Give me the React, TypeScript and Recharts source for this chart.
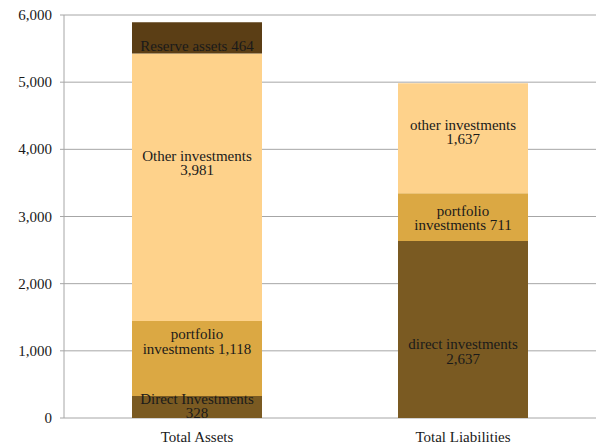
import React from "react";
import { BarChart, Bar, XAxis, YAxis, CartesianGrid, LabelList } from "recharts";

const categories = ["Total Assets", "Total Liabilities"];
const directValues = [328, 2637];
const portfolioValues = [1118, 711];
const otherValues = [3981, 1637];
const reserveValues = [464, 0];
const yTicks = [0, 1000, 2000, 3000, 4000, 5000, 6000];

const directLabels = [["Direct Investments", "328"], ["direct investments", "2,637"]];
const portfolioLabels = [["portfolio", "investments 1,118"], ["portfolio", "investments 711"]];
const otherLabels = [["Other investments", "3,981"], ["other investments", "1,637"]];
const reserveLabels = [["Reserve assets 464"], []];

const data = categories.map((c, i) => ({
  name: c,
  direct: directValues[i],
  portfolio: portfolioValues[i],
  other: otherValues[i],
  reserve: reserveValues[i],
}));

// label vertical nudges (style only)
const labelShift: Record<string, number[]> = {
  direct: [-1, 22],
  portfolio: [-17, 1],
  other: [-24, -6],
  reserve: [8, 0],
};

const FONT = '"Liberation Serif", "Times New Roman", serif';
const GRAY = "#A6A6A6";

const makeLabel = (lines: string[][], key: string) => (props: any) => {
  const { x, y, width, height, index } = props;
  const ls = lines[index] || [];
  if (!ls.length) return null;
  const cx = Number(x) + Number(width) / 2;
  const cy = Number(y) + Number(height) / 2 + (labelShift[key][index] || 0);
  const lh = 14.5;
  return (
    <text textAnchor="middle" fontFamily={FONT} fontSize={15} fill="#1a1a1a" style={{ fontFamily: FONT }}>
      {ls.map((t, i) => (
        <tspan key={i} x={cx} y={cy + (i - (ls.length - 1) / 2) * lh} dominantBaseline="central">
          {t}
        </tspan>
      ))}
    </text>
  );
};

const YTick = (props: any) => {
  const { x, y, payload } = props;
  return (
    <text x={x} y={y} textAnchor="end" dominantBaseline="central" fontFamily={FONT} fontSize={15} fill="#1a1a1a" style={{ fontFamily: FONT }}>
      {Number(payload.value).toLocaleString("en-US")}
    </text>
  );
};

const XTick = (props: any) => {
  const { x, y, payload } = props;
  return (
    <text x={x} y={y} textAnchor="middle" dominantBaseline="hanging" fontFamily={FONT} fontSize={15} fill="#1a1a1a" style={{ fontFamily: FONT }}>
      {payload.value}
    </text>
  );
};

export default function App() {
  return (
    <div style={{ position: "absolute", left: 0, top: 0, width: 596, height: 448, background: "#fff", fontFamily: FONT }}>
      <BarChart width={596} height={448} data={data} margin={{ top: 15, right: 0, left: 0, bottom: 0 }} style={{ fontFamily: FONT }}>
        <CartesianGrid vertical={false} stroke={GRAY} strokeWidth={1} />
        <XAxis
          xAxisId="edge"
          type="number"
          domain={[0, 2]}
          ticks={[0, 1, 2]}
          tickFormatter={() => ""}
          height={0}
          tickSize={5}
          stroke={GRAY}
          allowDataOverflow
        />
        <XAxis
          xAxisId="cat"
          dataKey="name"
          height={30}
          axisLine={false}
          tickLine={false}
          tickMargin={8}
          tick={<XTick />}
        />
        <YAxis
          width={64}
          domain={[0, 6000]}
          ticks={yTicks}
          tickSize={4}
          tickMargin={8}
          stroke={GRAY}
          tick={<YTick />}
        />
        <Bar xAxisId="cat" dataKey="direct" stackId="s" fill="#7A5A22" barSize={130} isAnimationActive={false}>
          <LabelList dataKey="direct" content={makeLabel(directLabels, "direct")} />
        </Bar>
        <Bar xAxisId="cat" dataKey="portfolio" stackId="s" fill="#DBA843" barSize={130} isAnimationActive={false}>
          <LabelList dataKey="portfolio" content={makeLabel(portfolioLabels, "portfolio")} />
        </Bar>
        <Bar xAxisId="cat" dataKey="other" stackId="s" fill="#FED28B" barSize={130} isAnimationActive={false}>
          <LabelList dataKey="other" content={makeLabel(otherLabels, "other")} />
        </Bar>
        <Bar xAxisId="cat" dataKey="reserve" stackId="s" fill="#5B3E15" barSize={130} isAnimationActive={false}>
          <LabelList dataKey="reserve" content={makeLabel(reserveLabels, "reserve")} />
        </Bar>
      </BarChart>
    </div>
  );
}
